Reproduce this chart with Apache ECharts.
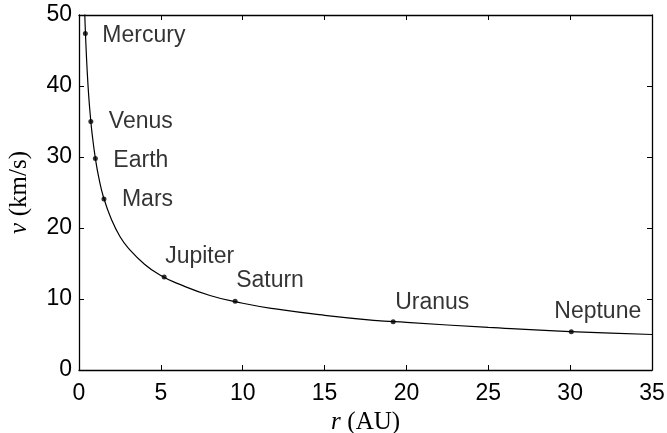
<!DOCTYPE html>
<html>
<head>
<meta charset="utf-8">
<script src="https://cdn.jsdelivr.net/npm/echarts@6/dist/echarts.min.js"></script>
<style>html,body{margin:0;padding:0;background:#fff;}#c{width:667px;height:433px;}</style>
</head>
<body>
<div id="c"></div>
<script>
// Orbit curve (r in AU, v in km/s)
var curveR = [0.3, 0.35, 0.4, 0.5, 0.6, 0.7, 0.8, 1, 1.2, 1.5, 2, 2.5, 3, 4, 5, 6, 8, 10, 12, 15, 18, 20, 25, 30, 35];
var curveV = [54.4, 50.3, 47.1, 42.1, 38.4, 35.6, 33.3, 29.8, 27.2, 24.3, 21.1, 18.8, 17.2, 14.9, 13.3, 12.2, 10.5, 9.4, 8.6, 7.7, 7.0, 6.7, 6.0, 5.4, 5.0];
// Planets
var planetNames = ['Mercury', 'Venus', 'Earth', 'Mars', 'Jupiter', 'Saturn', 'Uranus', 'Neptune'];
var planetR = [0.387, 0.723, 1.0, 1.524, 5.203, 9.537, 19.19, 30.07];
var planetV = [47.4, 35.0, 29.8, 24.1, 13.1, 9.7, 6.8, 5.4];
var xTicks = [0, 5, 10, 15, 20, 25, 30, 35];
var yTicks = [0, 10, 20, 30, 40, 50];

// label placement (style): offset of text left/middle from point, px
var labelPlace = [[17, 2], [18, 0], [18, 2], [18, 1], [1, -20], [1, -20], [2, -19], [-17, -20]];

var chart = echarts.init(document.getElementById('c'), null, {renderer: 'canvas'});
var FONT = 'Liberation Sans';
var SERIF = 'Liberation Serif';
var FS = 23;

function axisCommon(showLabel) {
  return {
    axisLine: {show: true, onZero: false, lineStyle: {color: '#000', width: 1.3}},
    axisTick: {show: true, inside: true, length: 5, lineStyle: {color: '#000', width: 1}},
    axisLabel: {show: showLabel, color: '#000', fontSize: FS, fontFamily: FONT},
    splitLine: {show: false}
  };
}

var curveData = curveR.map(function (r, i) { return [r, curveV[i]]; });
var planetData = planetR.map(function (r, i) {
  var p = labelPlace[i];
  return {
    value: [r, planetV[i]],
    label: {
      show: true,
      formatter: planetNames[i],
      position: [2.5 + p[0], 2.5 + p[1]],
      align: 'left',
      verticalAlign: 'middle',
      color: '#000',
      fontSize: FS,
      fontFamily: FONT
    }
  };
});

var nameRich = {
  i: {fontFamily: SERIF, fontStyle: 'italic', fontSize: 25, color: '#000'},
  n: {fontFamily: SERIF, fontSize: 25, color: '#000'}
};

var option = {
  animation: false,
  backgroundColor: '#fff',
  grid: {left: 79, right: 15, top: 15, bottom: 63, containLabel: false, outerBoundsMode: 'none'},
  xAxis: [
    Object.assign(axisCommon(true), {
      type: 'value', min: 0, max: 35, interval: 5, position: 'bottom',
      name: '{i|r}  {n|(AU)}', nameLocation: 'middle', nameGap: 39,
      nameTextStyle: {rich: nameRich},
      axisLabel: {show: true, color: '#000', fontSize: FS, fontFamily: FONT, margin: 12,
                  formatter: function (v) { return xTicks.indexOf(v) >= 0 ? String(v) : ''; }}
    }),
    Object.assign(axisCommon(false), {type: 'value', min: 0, max: 35, interval: 5, position: 'top'})
  ],
  yAxis: [
    Object.assign(axisCommon(true), {
      type: 'value', min: 0, max: 50, interval: 10, position: 'left',
      name: '{i|v}  {n|(km/s)}', nameLocation: 'middle', nameGap: 47, nameRotate: 90,
      nameTextStyle: {rich: nameRich},
      axisLabel: {show: true, color: '#000', fontSize: FS, fontFamily: FONT, margin: 7,
                  formatter: function (v) { return yTicks.indexOf(v) >= 0 ? String(v) : ''; }}
    }),
    Object.assign(axisCommon(false), {type: 'value', min: 0, max: 50, interval: 10, position: 'right'})
  ],
  series: [
    {
      type: 'line', data: curveData, smooth: true, showSymbol: false, clip: true,
      xAxisIndex: 0, yAxisIndex: 0,
      lineStyle: {color: '#000', width: 1.2}, silent: true
    },
    {
      type: 'scatter', data: planetData, symbol: 'circle', symbolSize: 5,
      xAxisIndex: 0, yAxisIndex: 0,
      itemStyle: {color: '#000'}
    }
  ]
};
chart.setOption(option);
</script>
</body>
</html>
